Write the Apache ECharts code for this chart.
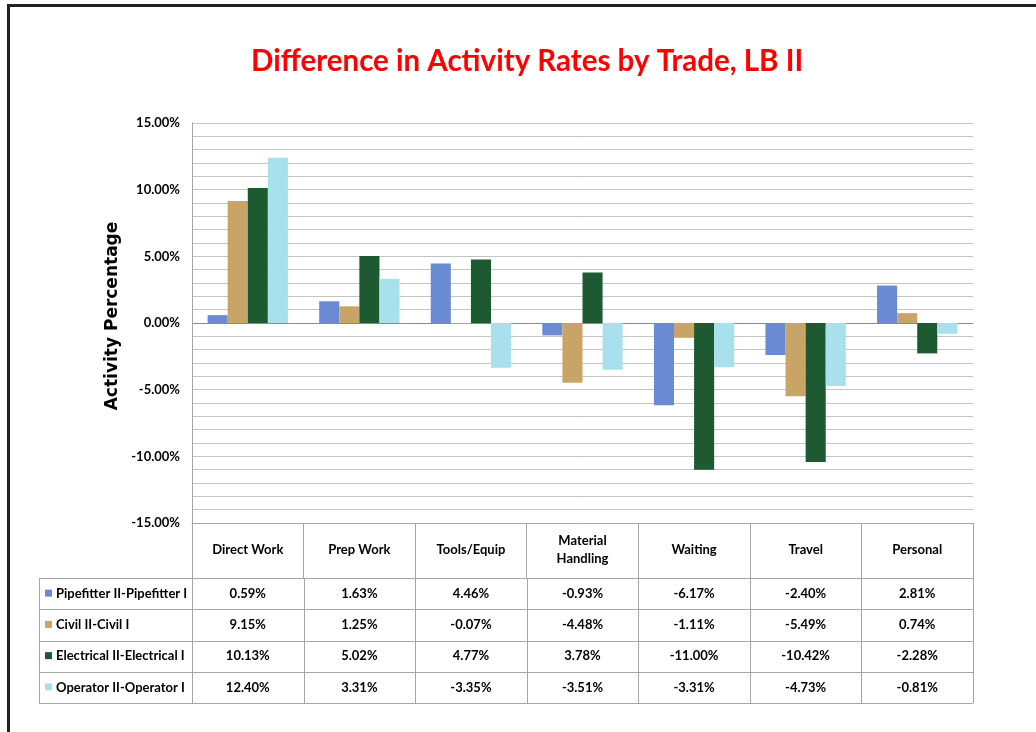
<!DOCTYPE html>
<html>
<head>
<meta charset="utf-8">
<script src="https://cdn.jsdelivr.net/npm/echarts@6/dist/echarts.min.js"></script>
<style>
  html, body { margin: 0; padding: 0; background: #fff; }
  #chart { width: 1036px; height: 732px; }
</style>
</head>
<body>
<div id="chart"></div>
<script>
// data
var categories = ['Direct Work', 'Prep Work', 'Tools/Equip', 'Material\nHandling', 'Waiting', 'Travel', 'Personal'];
var seriesNames = ['Pipefitter II-Pipefitter I', 'Civil II-Civil I', 'Electrical II-Electrical I', 'Operator II-Operator I'];
var pipefitter = [0.59, 1.63, 4.46, -0.93, -6.17, -2.40, 2.81];
var civil = [9.15, 1.25, -0.07, -4.48, -1.11, -5.49, 0.74];
var electrical = [10.13, 5.02, 4.77, 3.78, -11.00, -10.42, -2.28];
var operator = [12.40, 3.31, -3.35, -3.51, -3.31, -4.73, -0.81];
var yMin = -15, yMax = 15, yStep = 5;

var colors = ['#6a8bd3', '#c8a466', '#1e5a31', '#a8e0ed'];
var seriesData = [pipefitter, civil, electrical, operator];

var font = 'Lato, "Liberation Sans", sans-serif';
var plotLeft = 192, plotRight = 973, plotTop = 123, plotBottom = 523;
var headerBottom = 578, rowH = 31.25, legendLeft = 39;
var colW = (plotRight - plotLeft) / categories.length;
var lineGray = '#a6a6a6';

var myChart = echarts.init(document.getElementById('chart'));

// data table under the plot, built from the same arrays
var graphics = [];
function hline(y, x1, x2) {
  graphics.push({ type: 'line', shape: { x1: x1, y1: y, x2: x2, y2: y }, style: { stroke: lineGray, lineWidth: 1 }, silent: true });
}
function vline(x, y1, y2) {
  graphics.push({ type: 'line', shape: { x1: x, y1: y1, x2: x, y2: y2 }, style: { stroke: lineGray, lineWidth: 1 }, silent: true });
}
var tableBottom = headerBottom + rowH * seriesNames.length;
for (var r = 0; r <= seriesNames.length; r++) {
  hline(Math.round(headerBottom + r * rowH) + 0.5, legendLeft, plotRight);
}
vline(legendLeft + 0.5, headerBottom, tableBottom);
for (var c = 0; c <= categories.length; c++) {
  vline(Math.round(plotLeft + c * colW) + 0.5, headerBottom, tableBottom);
}
seriesNames.forEach(function (name, i) {
  var cy = headerBottom + (i + 0.5) * rowH;
  graphics.push({ type: 'rect', shape: { x: legendLeft + 6, y: cy - 4, width: 7, height: 7 }, style: { fill: colors[i] }, silent: true });
  graphics.push({
    type: 'text', x: legendLeft + 17, y: cy,
    style: { text: name, font: 'bold 13px ' + font, fill: '#000', verticalAlign: 'middle', align: 'left' }, silent: true
  });
  seriesData[i].forEach(function (v, j) {
    graphics.push({
      type: 'text', x: plotLeft + (j + 0.5) * colW, y: cy,
      style: { text: v.toFixed(2) + '%', font: 'bold 13px ' + font, fill: '#000', verticalAlign: 'middle', align: 'center' }, silent: true
    });
  });
});
// y axis title
graphics.push({
  type: 'text', x: 113, y: 316, rotation: Math.PI / 2,
  style: { text: 'Activity Percentage', font: 'bold 17px "DejaVu Sans", sans-serif', fill: '#000', align: 'center', verticalAlign: 'middle' },
  silent: true
});
// outer frame
graphics.push({ type: 'polyline', shape: { points: [[8.5, 732], [8.5, 5.5], [1036, 5.5]] }, style: { stroke: '#222', lineWidth: 3, fill: null }, silent: true });

var option = {
  animation: false,
  title: {
    text: 'Difference in Activity Rates by Trade, LB II',
    left: 246,
    top: 41,
    textStyle: { color: '#ff0000', fontSize: 29.5, fontWeight: 'bold', fontFamily: font }
  },
  grid: { left: plotLeft, right: 1036 - plotRight, top: plotTop, bottom: 732 - plotBottom },
  xAxis: {
    type: 'category',
    data: categories,
    axisLine: { onZero: false, lineStyle: { color: lineGray } },
    axisTick: { show: true, length: 55, interval: 0, lineStyle: { color: lineGray } },
    axisLabel: { interval: 0, margin: 27, verticalAlign: 'middle', color: '#000', fontSize: 13, fontWeight: 'bold', fontFamily: font, lineHeight: 18 }
  },
  yAxis: {
    type: 'value',
    min: yMin, max: yMax, interval: yStep,
    axisLine: { show: true, lineStyle: { color: lineGray } },
    axisTick: { show: false },
    axisLabel: {
      color: '#000', fontSize: 13, fontWeight: 'bold', fontFamily: font, margin: 12,
      formatter: function (v) { return v.toFixed(2) + '%'; }
    },
    splitLine: { show: true, lineStyle: { color: ['#c4c4c4', '#c4c4c4', '#c4c4c4', '#8a8a8a', '#c4c4c4', '#c4c4c4', '#c4c4c4'] } },
    minorTick: { show: false, splitNumber: 5 },
    minorSplitLine: { show: true, lineStyle: { color: '#c4c4c4' } }
  },
  series: seriesNames.map(function (name, i) {
    return {
      name: name,
      type: 'bar',
      data: seriesData[i],
      barGap: '0%',
      barCategoryGap: '28%',
      itemStyle: { color: colors[i] }
    };
  }),
  graphic: graphics
};

myChart.setOption(option);
</script>
</body>
</html>
